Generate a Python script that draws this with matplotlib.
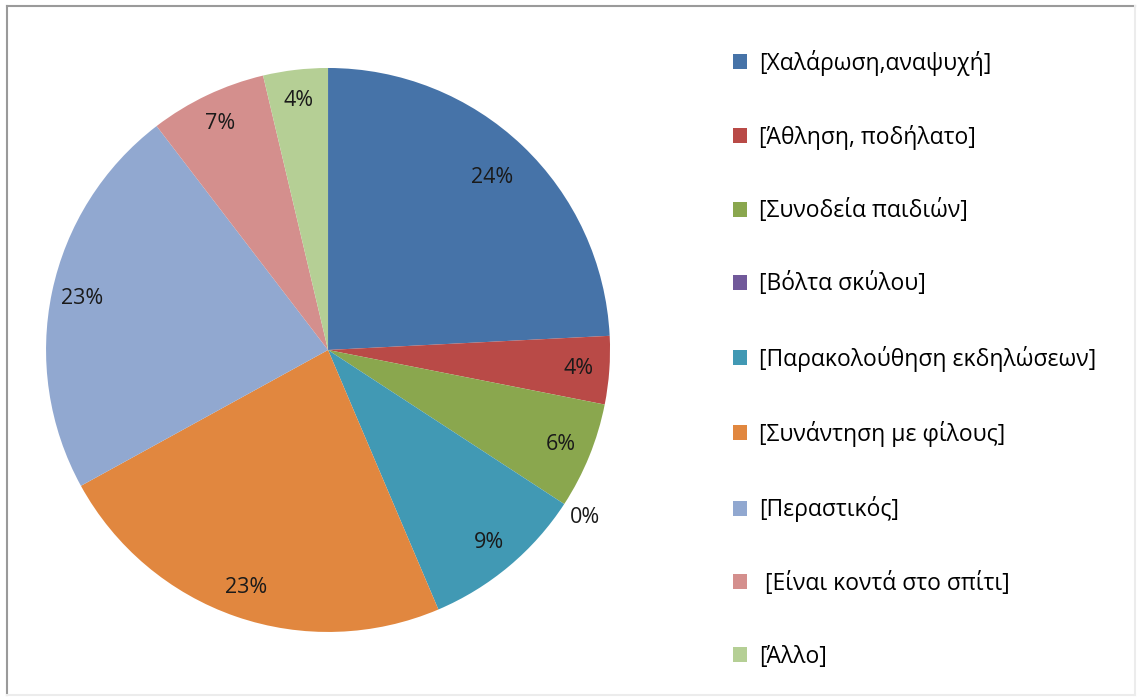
import numpy as np
import matplotlib.pyplot as plt
from matplotlib.lines import Line2D

plt.rcParams['font.family'] = ['Open Sans', 'DejaVu Sans']

# --- data ---
categories = ['[Χαλάρωση,αναψυχή]', '[Άθληση, ποδήλατο]', '[Συνοδεία παιδιών]',
              '[Βόλτα σκύλου]', '[Παρακολούθηση εκδηλώσεων]', '[Συνάντηση με φίλους]',
              '[Περαστικός]', ' [Είναι κοντά στο σπίτι]', '[Άλλο]']
shares = [24.2, 3.9, 6.1, 0.0, 9.4, 23.4, 22.6, 6.7, 3.7]
colors = ['#4673A8', '#B94A47', '#8AA74E', '#71599A', '#4199B4',
          '#E1873F', '#91A8D0', '#D48F8D', '#B5CF95']

fig = plt.figure(figsize=(11.39, 6.98), dpi=100)
ax = fig.add_axes([0.0404, 0.0946, 0.4952, 0.808])

wedges, texts, autotexts = ax.pie(
    shares, colors=colors, startangle=90, counterclock=False,
    autopct=lambda p: f'{p:.0f}%', pctdistance=0.89,
    wedgeprops=dict(linewidth=0), textprops=dict(fontsize=15.5, color='#1a1a1a'))
ax.set_xlim(-1, 1)
ax.set_ylim(-1, 1)
ax.set_aspect('equal')

# move a few labels like Excel's best-fit placement
for w, t, v in zip(wedges, autotexts, shares):
    mid = np.deg2rad((w.theta1 + w.theta2) / 2)
    if v == 0:
        r = 1.09
    elif v > 24:
        r = 0.845
    else:
        continue
    t.set_position((r * np.cos(mid), r * np.sin(mid)))

leg = fig.legend(wedges, categories, loc='upper left',
                 bbox_to_anchor=(712 / 1139, 1 - 29 / 698),
                 frameon=False, fontsize=16.5, labelspacing=2.15,
                 handlelength=0.62, handleheight=0.62, handletextpad=0.55)

# outer frame: dark on left/top, very faint on right/bottom
W, H = 1139, 698
x0, x1, y0, y1 = 7 / W, 1135 / W, 1 - 6 / H, 1 - 695 / H
for xs, ys, c in [([x0, x0], [y1, y0], '#9a9a9a'), ([x0, x1], [y0, y0], '#9a9a9a'),
                  ([x1, x1], [y1, y0], '#ececec'), ([x0, x1], [y1, y1], '#ececec')]:
    fig.add_artist(Line2D(xs, ys, transform=fig.transFigure, color=c, linewidth=1.5))

fig.savefig('out.png', dpi=100)
